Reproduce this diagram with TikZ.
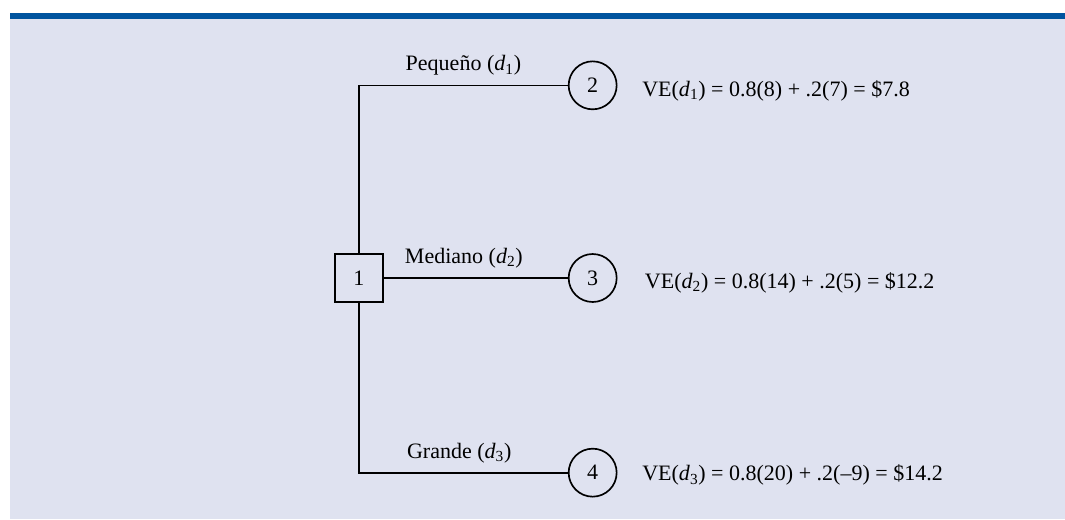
\documentclass[tikz,border=0pt]{standalone}
\usepackage{fontspec}
\setmainfont{Liberation Serif}
\usetikzlibrary{positioning}
\definecolor{panelbg}{RGB}{223,226,240}
\definecolor{barblue}{RGB}{0,84,159}
\newcommand{\dd}[1]{\textit{d}\textsubscript{#1}}

\begin{document}
\begin{tikzpicture}[
    font=\fontsize{16.5}{20}\selectfont,
    line width=1.25pt,
    decision/.style={rectangle, draw, minimum size=36pt, inner sep=0pt},
    chance/.style={circle, draw, minimum size=36pt, inner sep=0pt},
    ev/.style={inner sep=0pt},
    lbl/.style={anchor=base, yshift=11pt, inner sep=0pt}
]
    % Frame
    \useasboundingbox (-269.25pt,208.5pt) rectangle (529.5pt,-180.75pt);
    \fill[panelbg] (-261.75pt,194.25pt) rectangle (529.5pt,-180.75pt);
    \fill[barblue] (-261.75pt,198.75pt) rectangle (529.5pt,194.25pt);

    % Decision node
    \node[decision] (d1) {1};

    % Chance nodes
    \node[chance, right=138pt of d1] (c3) {3};
    \node[chance, above=107.25pt of c3] (c2) {2};
    \node[chance, below=108.75pt of c3] (c4) {4};

    % Expected values
    \node[ev, right=18pt of c2, yshift=-4pt] (ev2) {VE(\dd{1}) = 0.8(8) + .2(7) = \$7.8};
    \node[ev, right=20pt of c3, yshift=-3.5pt] (ev3) {VE(\dd{2}) = 0.8(14) + .2(5) = \$12.2};
    \node[ev, right=18pt of c4, yshift=-2pt] (ev4) {VE(\dd{3}) = 0.8(20) + .2(--9) = \$14.2};

    % Branches
    \draw (d1.north) |- (c2) node[lbl, pos=0.75] {Pequeño (\dd{1})};
    \draw (d1) -- (c3) node[lbl, pos=0.435] {Mediano (\dd{2})};
    \draw (d1.south) |- (c4) node[lbl, pos=0.74] {Grande (\dd{3})};
\end{tikzpicture}
\end{document}
